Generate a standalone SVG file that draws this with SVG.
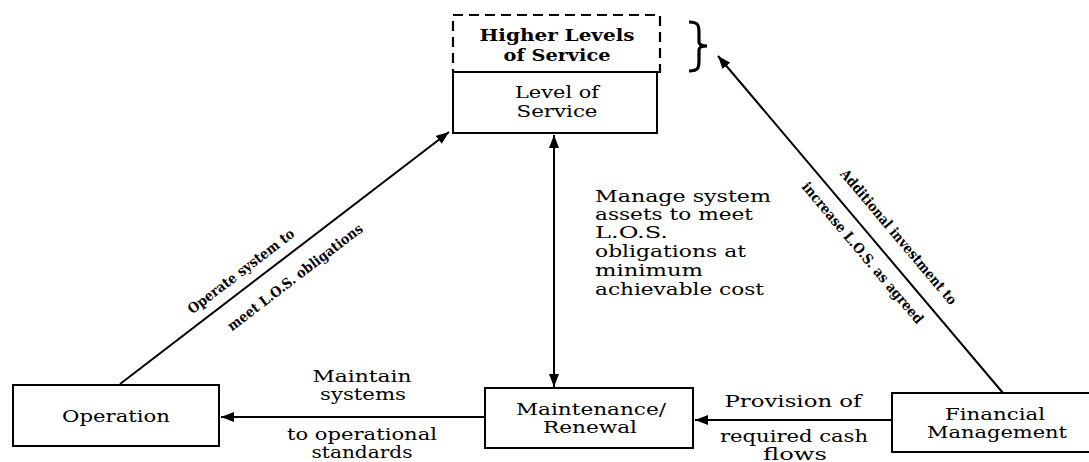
<svg xmlns="http://www.w3.org/2000/svg" width="1089" height="462" viewBox="0 0 1089 462">
  <style>
    .box { fill: #fff; stroke: #000; stroke-width: 2; }
    .dash { fill: none; stroke: #000; stroke-width: 2.2; stroke-dasharray: 10 6; }
    .conn { fill: none; stroke: #000; stroke-width: 2; }
    text { font-family: "DejaVu Serif", "Liberation Serif", serif; font-size: 17px; fill: #000; }
    .c { text-anchor: middle; }
    .small { font-size: 14px; font-weight: bold; }
  </style>
  <defs>
    <marker id="arrow" markerUnits="userSpaceOnUse" markerWidth="14" markerHeight="10" refX="13" refY="5" orient="auto-start-reverse">
      <path d="M0,0 L13,5 L0,10 z" fill="#000"/>
    </marker>
  </defs>

  <rect width="1089" height="462" fill="#fff"/>

  <!-- Level of service stack: dashed upper tier for higher levels -->
  <g id="node-higher-los">
    <rect class="dash" x="453" y="15" width="207" height="57"/>
    <text class="c" x="557" y="41" textLength="155" lengthAdjust="spacingAndGlyphs" font-weight="600">Higher Levels</text>
    <text class="c" x="557" y="61" textLength="107" lengthAdjust="spacingAndGlyphs" font-weight="600">of Service</text>
    <path d="M689,22 C699,22 699,26 699,34 L699,42 C699,45 702,46 707,46 C702,46 699,47 699,50 L699,60 C699,67 699,71 689,71" fill="none" stroke="#000" stroke-width="3.2"/>
  </g>

  <g id="node-los">
    <rect class="box" x="453" y="72" width="204" height="61"/>
    <text class="c" x="557" y="98" textLength="84" lengthAdjust="spacingAndGlyphs">Level of</text>
    <text class="c" x="557" y="117" textLength="81" lengthAdjust="spacingAndGlyphs">Service</text>
  </g>

  <g id="node-operation">
    <rect class="box" x="13" y="385" width="206" height="61"/>
    <text class="c" x="116" y="422" textLength="108" lengthAdjust="spacingAndGlyphs">Operation</text>
  </g>

  <g id="node-maintenance">
    <rect class="box" x="485" y="388" width="208" height="60"/>
    <text class="c" x="591" y="415" textLength="150" lengthAdjust="spacingAndGlyphs">Maintenance/</text>
    <text class="c" x="590" y="433" textLength="94" lengthAdjust="spacingAndGlyphs">Renewal</text>
  </g>

  <g id="node-financial">
    <rect class="box" x="892" y="393" width="210" height="59"/>
    <text class="c" x="995" y="420" textLength="100" lengthAdjust="spacingAndGlyphs">Financial</text>
    <text class="c" x="997" y="438" textLength="140" lengthAdjust="spacingAndGlyphs">Management</text>
  </g>

  <g id="connectors">
    <line class="conn" x1="120" y1="384" x2="449" y2="132" marker-end="url(#arrow)"/>
    <line class="conn" x1="554" y1="135" x2="554" y2="387" marker-start="url(#arrow)" marker-end="url(#arrow)"/>
    <line class="conn" x1="485" y1="417" x2="221" y2="417" marker-end="url(#arrow)"/>
    <line class="conn" x1="892" y1="420" x2="695" y2="420" marker-end="url(#arrow)"/>
    <line class="conn" x1="1003" y1="393" x2="718" y2="56" marker-end="url(#arrow)"/>
  </g>

  <g id="labels">
    <text class="small c" transform="translate(244,275) rotate(-37.4)" textLength="130" lengthAdjust="spacingAndGlyphs">Operate system to</text>
    <text class="small c" transform="translate(298,281) rotate(-37.4)" textLength="166" lengthAdjust="spacingAndGlyphs">meet L.O.S. obligations</text>

    <text x="595" y="202" textLength="176" lengthAdjust="spacingAndGlyphs">Manage system</text>
    <text x="595" y="220" textLength="158" lengthAdjust="spacingAndGlyphs">assets to meet</text>
    <text x="595" y="238" textLength="73" lengthAdjust="spacingAndGlyphs">L.O.S.</text>
    <text x="595" y="257" textLength="151" lengthAdjust="spacingAndGlyphs">obligations at</text>
    <text x="595" y="276" textLength="108" lengthAdjust="spacingAndGlyphs">minimum</text>
    <text x="595" y="295" textLength="169" lengthAdjust="spacingAndGlyphs">achievable cost</text>

    <text class="small c" transform="translate(895,240) rotate(49.9)" textLength="172" lengthAdjust="spacingAndGlyphs">Additional investment to</text>
    <text class="small c" transform="translate(859,256) rotate(49.9)" textLength="180" lengthAdjust="spacingAndGlyphs">increase L.O.S. as agreed</text>

    <text class="c" x="362" y="382" textLength="99" lengthAdjust="spacingAndGlyphs">Maintain</text>
    <text class="c" x="363" y="400" textLength="86" lengthAdjust="spacingAndGlyphs">systems</text>
    <text class="c" x="362" y="440" textLength="150" lengthAdjust="spacingAndGlyphs">to operational</text>
    <text class="c" x="362" y="458" textLength="101" lengthAdjust="spacingAndGlyphs">standards</text>

    <text class="c" x="793" y="407" textLength="137" lengthAdjust="spacingAndGlyphs">Provision of</text>
    <text class="c" x="794" y="442" textLength="148" lengthAdjust="spacingAndGlyphs">required cash</text>
    <text class="c" x="795" y="460" textLength="64" lengthAdjust="spacingAndGlyphs">flows</text>
  </g>
</svg>
